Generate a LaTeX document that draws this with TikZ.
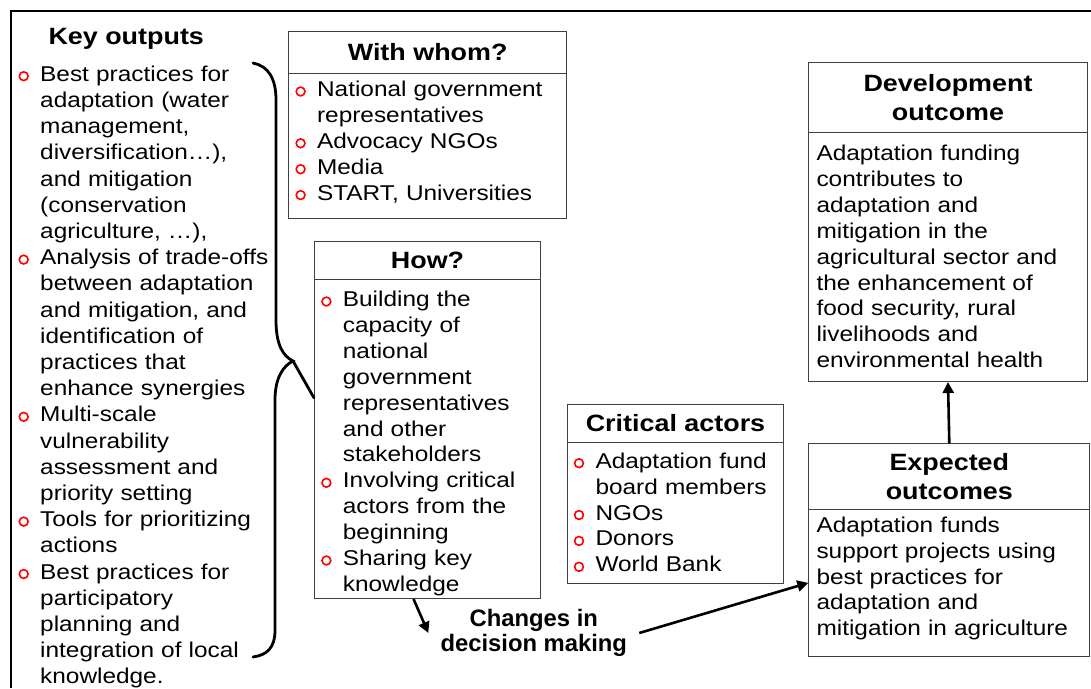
\documentclass[tikz,border=0pt]{standalone}
\usepackage{fontspec}
\setmainfont{Liberation Sans}[FakeStretch=1.14]
\newfontfamily\plainsans{Liberation Sans}
\usetikzlibrary{arrows.meta}

\newcommand{\bul}{\makebox[21.7pt][l]{\tikz[baseline=0pt]\draw[red,line width=1.6pt] (5.3pt,5pt) circle (4.4pt);}}
\newcommand{\ind}{\hspace*{21.7pt}}

\begin{document}
\begin{tikzpicture}[x=1pt,y=-1pt,
    headbox/.style={draw=black!75,line width=1pt,anchor=north west,inner sep=0pt,align=center,
        font=\fontsize{23.6}{28.8}\selectfont\bfseries},
    bodybox/.style={draw=black!75,line width=1pt,anchor=north west,inner xsep=6.6pt,inner ysep=0pt,
        align=left,font=\fontsize{21.4}{25.9}\selectfont},
    arr/.style={line width=2.6pt,-{Triangle[length=11pt,width=11pt]}},
    bracel/.style={line width=2.8pt,line cap=round}]
\path[fill=white,use as bounding box] (0,0) rectangle (1091,688);
\draw[line width=2pt] (11,688) -- (11,11) -- (1091,11);

% key outputs
\node[anchor=base west,inner sep=0pt,font=\fontsize{23.6}{28.8}\selectfont\bfseries] (keyhead) at (48.3,44) {Key outputs};
\node[anchor=north west,inner sep=0pt,text width=262pt,align=left,text height=18.3pt,
    font=\fontsize{21.4}{26.2}\selectfont] (keylist) at (18.3,62.7) {%
    \bul Best practices for\\ \ind adaptation (water\\ \ind management,\\ \ind diversification…),\\
    \ind and mitigation\\ \ind (conservation\\ \ind agriculture, …),\\
    \bul Analysis of trade-offs\\ \ind between adaptation\\ \ind and mitigation,  and\\
    \ind identification of\\ \ind practices that\\ \ind enhance synergies\\
    \bul Multi-scale\\ \ind vulnerability\\ \ind assessment and\\ \ind priority setting\\
    \bul Tools for prioritizing\\ \ind actions\\
    \bul Best practices for\\ \ind participatory\\ \ind planning and\\ \ind integration of local\\ \ind knowledge.};

% with whom
\node[headbox,minimum width=277.7pt,minimum height=41.7pt] (whomh) at (288.3,31) {With whom?};
\node[bodybox,text width=264.5pt,text height=23.3pt,text depth=121.7pt] (whomb) at (288.3,72.7) {%
    \bul National government\\ \ind representatives\\ \bul Advocacy NGOs\\ \bul Media\\ \bul START, Universities};

% how
\node[headbox,minimum width=226pt,minimum height=38.3pt] (howh) at (314,241) {How?};
\node[bodybox,inner xsep=6.7pt,text width=212.6pt,text height=26.7pt,text depth=292pt] (howb) at (314,279.3) {%
    \bul Building the\\ \ind capacity of\\ \ind national\\ \ind government\\ \ind representatives\\
    \ind and other\\ \ind stakeholders\\
    \bul Involving critical\\ \ind actors from the\\ \ind beginning\\
    \bul Sharing key\\ \ind knowledge};

% critical actors
\node[headbox,minimum width=216.6pt,minimum height=37.4pt] (crith) at (566.7,404.3) {Critical actors};
\node[bodybox,text width=203.4pt,text height=26pt,text depth=115.6pt] (critb) at (566.7,441.7) {%
    \bul Adaptation fund\\ \ind board members\\ \bul NGOs\\ \bul Donors\\ \bul World Bank};

% development outcome
\node[headbox,minimum width=278.4pt,minimum height=70pt] (devh) at (808.3,61.7) {Development\\outcome};
\node[bodybox,inner xsep=7.7pt,text width=263pt,text height=28.3pt,text depth=221pt] (devb) at (808.3,131.7) {%
    Adaptation funding\\ contributes to\\ adaptation and\\ mitigation in the\\ agricultural sector and\\
    the enhancement of\\ food security, rural\\ livelihoods and\\ environmental health};

% expected outcomes
\node[headbox,minimum width=281pt,minimum height=65.7pt] (exph) at (808.3,443.3) {Expected\\outcomes};
\node[bodybox,inner xsep=7.7pt,text width=265.6pt,text height=22.7pt,text depth=124pt] (expb) at (808.3,509) {%
    Adaptation funds\\ support projects using\\ best practices for\\ adaptation and\\ mitigation in agriculture};

\node[font=\plainsans\bfseries\fontsize{23.8}{25}\selectfont,align=center,inner xsep=12pt,inner ysep=0pt] (chg) at (533.8,633) {Changes in\\decision making};

% brace
\coordinate (tip) at (293,361);
\draw[bracel] (253,63) .. controls (268,66) and (276,78) .. (276,100) -- (276,320)
    .. controls (276,345) and (283,356) .. (tip)
    .. controls (283,366) and (275,378) .. (275,400) -- (275,630)
    .. controls (275,648) and (267,655) .. (253,657);
\draw[bracel] (tip) -- (howb.160);

\draw[arr] (howb.265) -- (chg.west);
\draw[arr] (chg.east) -- (expb.west);
\draw[arr] (exph.north) -- (devb.south);
\end{tikzpicture}
\end{document}
